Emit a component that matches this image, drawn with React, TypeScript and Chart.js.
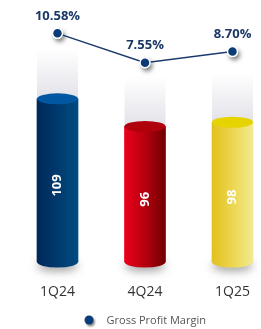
import { useEffect, useRef } from 'react';
import { Chart, registerables } from 'chart.js';

Chart.register(...registerables);

const categories = ['1Q24', '4Q24', '1Q25'];
const revenue = [109, 96, 98];
const grossMargin = [10.58, 7.55, 8.7];
const marginLabels = ['10.58%', '7.55%', '8.70%'];
const legendLabel = 'Gross Profit Margin';

const Y_MIN = 32.2;
const Y_MAX = 155.55;
const Y1_MIN = -12.99;
const Y1_MAX = 14.02;

const FONT = '"Open Sans", "Noto Sans", sans-serif';

const bodyStops = [
  ['#00285a', '#003a6e', '#004b80'],
  ['#ec001c', '#b5000f', '#700000'],
  ['#e2c11c', '#ecd650', '#f2ea92'],
];
const capColors = ['#0058a2', '#b0000e', '#e5d400'];

function makeLegendDot(): HTMLCanvasElement {
  const c = document.createElement('canvas');
  c.width = 17;
  c.height = 16;
  const g = c.getContext('2d')!;
  g.shadowColor = 'rgba(0,0,0,0.45)';
  g.shadowBlur = 2;
  g.shadowOffsetX = 1.5;
  g.shadowOffsetY = 2;
  g.fillStyle = '#0b3c78';
  g.beginPath();
  g.arc(5, 7, 4.5, 0, Math.PI * 2);
  g.fill();
  return c;
}

const cylinderPlugin = {
  id: 'cylinders',
  beforeDatasetsDraw(chart: any) {
    const ctx = chart.ctx;
    const meta = chart.getDatasetMeta(0);
    meta.data.forEach((el: any) => {
      const { x, y, base, width } = el.getProps(['x', 'y', 'base', 'width'], true);
      const half = width / 2;
      const tg = ctx.createLinearGradient(0, y - 50, 0, y + 4);
      tg.addColorStop(0, 'rgba(226,226,233,0)');
      tg.addColorStop(1, 'rgba(222,222,230,1)');
      ctx.save();
      ctx.fillStyle = tg;
      ctx.fillRect(x - half, y - 50, width, 60);
      ctx.shadowColor = 'rgba(0,0,0,0.35)';
      ctx.shadowBlur = 8;
      ctx.shadowOffsetY = 4;
      ctx.fillStyle = 'rgba(200,200,200,1)';
      ctx.beginPath();
      ctx.ellipse(x, base, half, 5.5, 0, 0, Math.PI * 2);
      ctx.fill();
      ctx.restore();
    });
  },
  afterDatasetDraw(chart: any, args: any) {
    if (args.index !== 0) return;
    const ctx = chart.ctx;
    const meta = chart.getDatasetMeta(0);
    meta.data.forEach((el: any, i: number) => {
      const { x, y, base, width } = el.getProps(['x', 'y', 'base', 'width'], true);
      const half = width / 2;
      const stops = bodyStops[i];
      const g = ctx.createLinearGradient(x - half, 0, x + half, 0);
      g.addColorStop(0, stops[0]);
      g.addColorStop(0.5, stops[1]);
      g.addColorStop(1, stops[2]);
      ctx.save();
      ctx.fillStyle = g;
      ctx.beginPath();
      ctx.ellipse(x, base, half, 5.5, 0, 0, Math.PI);
      ctx.fill();
      ctx.fillStyle = capColors[i];
      ctx.beginPath();
      ctx.ellipse(x, y, half, 5.5, 0, 0, Math.PI * 2);
      ctx.fill();
      ctx.translate(x, (y + base) / 2 + 5);
      ctx.rotate(-Math.PI / 2);
      ctx.fillStyle = '#ffffff';
      ctx.font = `bold 13px ${FONT}`;
      ctx.textAlign = 'center';
      ctx.textBaseline = 'middle';
      ctx.fillText(String(revenue[i]), 0, 0);
      ctx.restore();
    });
  },
  beforeDatasetDraw(chart: any, args: any) {
    if (args.index !== 1) return;
    const ctx = chart.ctx;
    const meta = chart.getDatasetMeta(1);
    ctx.save();
    meta.data.forEach((pt: any) => {
      ctx.shadowColor = 'rgba(0,0,0,0.5)';
      ctx.shadowBlur = 4;
      ctx.shadowOffsetX = 2;
      ctx.shadowOffsetY = 3;
      ctx.fillStyle = 'rgba(255,255,255,1)';
      ctx.beginPath();
      ctx.arc(pt.x, pt.y, 5.5, 0, Math.PI * 2);
      ctx.fill();
    });
    ctx.restore();
  },
  afterDatasetsDraw(chart: any) {
    const ctx = chart.ctx;
    const meta = chart.getDatasetMeta(1);
    ctx.save();
    ctx.fillStyle = '#1b3867';
    ctx.font = `bold 13px ${FONT}`;
    ctx.textAlign = 'center';
    ctx.textBaseline = 'middle';
    meta.data.forEach((pt: any, i: number) => {
      ctx.fillText(marginLabels[i], pt.x, pt.y - 17);
    });
    ctx.restore();
  },
};

export default function App() {
  const ref = useRef<HTMLCanvasElement>(null);

  useEffect(() => {
    document.documentElement.style.overflow = 'hidden';
    document.body.style.margin = '0';
    document.body.style.overflow = 'hidden';
    const canvas = ref.current!;
    const dot = makeLegendDot();
    const chart = new Chart(canvas, {
      type: 'bar',
      data: {
        labels: categories,
        datasets: [
          {
            type: 'bar',
            label: 'Revenue',
            data: revenue,
            yAxisID: 'y',
            order: 1,
            base: Y_MIN,
            barThickness: 41,
            backgroundColor: (c: any) => {
              const chartRef = c.chart;
              if (!chartRef.chartArea) return bodyStops[c.dataIndex % 3][0];
              const x = chartRef.scales.x.getPixelForValue(c.dataIndex);
              const g = chartRef.ctx.createLinearGradient(x - 20.5, 0, x + 20.5, 0);
              const s = bodyStops[c.dataIndex % 3];
              g.addColorStop(0, s[0]);
              g.addColorStop(0.5, s[1]);
              g.addColorStop(1, s[2]);
              return g;
            },
            borderWidth: 0,
          } as any,
          {
            type: 'line',
            label: legendLabel,
            data: grossMargin,
            yAxisID: 'y1',
            order: 0,
            borderColor: '#1d3a6b',
            borderWidth: 1.5,
            pointRadius: 5,
            pointHoverRadius: 5,
            pointBackgroundColor: '#0b3c78',
            pointBorderColor: '#ffffff',
            pointBorderWidth: 1.5,
            pointStyle: 'circle',
            clip: false as any,
            tension: 0,
          } as any,
        ],
      },
      options: {
        responsive: false,
        animation: false,
        devicePixelRatio: 1,
        layout: { autoPadding: false, padding: { left: 13.75, right: 13.75, top: 0, bottom: -7.5 } },
        plugins: {
          tooltip: { enabled: false },
          legend: {
            position: 'bottom',
            labels: {
              usePointStyle: true,
              pointStyle: dot as any,
              pointStyleWidth: 17,
              boxWidth: 14,
              boxHeight: 14,
              padding: 8,
              color: '#555555',
              font: { family: FONT, size: 11 },
              filter: (item: any) => item.datasetIndex === 1,
            },
          },
        },
        scales: {
          x: {
            grid: { display: false, drawTicks: false },
            border: { display: false },
            ticks: {
              color: '#333333',
              font: { family: FONT, size: 14 },
              padding: 22,
            },
            afterFit: (scale: any) => {
              scale.height = 45.5;
            },
          },
          y: {
            display: false,
            beginAtZero: false,
            min: Y_MIN,
            max: Y_MAX,
          },
          y1: {
            display: false,
            beginAtZero: false,
            min: Y1_MIN,
            max: Y1_MAX,
          },
        },
      },
      plugins: [cylinderPlugin],
    });
    return () => chart.destroy();
  }, []);

  return (
    <div style={{ position: 'absolute', left: 0, top: 0, width: 290, height: 329 }}>
      <canvas ref={ref} width={290} height={329} style={{ width: 290, height: 329 }} />
    </div>
  );
}
